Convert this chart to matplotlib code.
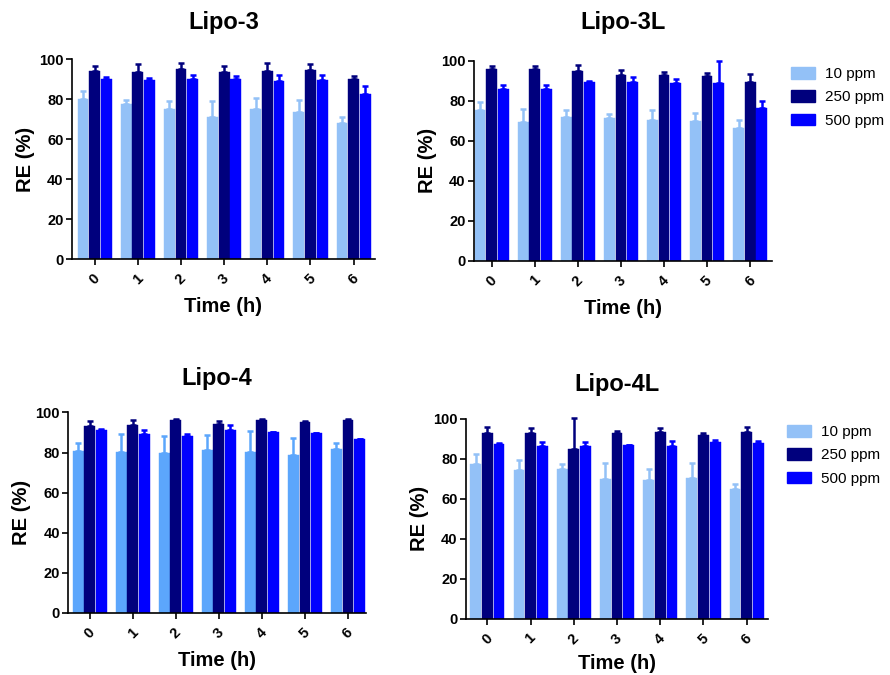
import numpy as np
import matplotlib
matplotlib.use("Agg")
import matplotlib.pyplot as plt
from matplotlib.patches import Patch

plt.rcParams['font.family'] = ['Liberation Sans', 'DejaVu Sans']

times = [0, 1, 2, 3, 4, 5, 6]
series = ['10 ppm', '250 ppm', '500 ppm']

# Lipo-3 (mean, sd)
l3_10 = [80, 77.7, 74.9, 71.2, 74.9, 73.4, 68]
l3_10_sd = [4, 2, 4.3, 7.8, 5.5, 6.3, 3.3]
l3_250 = [94, 93.7, 95.2, 93.5, 94.2, 94.7, 90]
l3_250_sd = [2.5, 3.8, 3, 3.2, 4, 3.1, 1.8]
l3_500 = [90, 89.7, 89.9, 89.9, 88.9, 89.5, 82.5]
l3_500_sd = [1, 1.1, 2.4, 1.9, 3.4, 2.8, 4]

# Lipo-3L
l3l_10 = [75.3, 69.5, 72, 71.3, 70.3, 70, 66.5]
l3l_10_sd = [3.9, 6.3, 3.2, 1.9, 5, 3.7, 3.7]
l3l_250 = [95.8, 95.8, 95, 92.8, 92.8, 92.5, 89.5]
l3l_250_sd = [1.7, 1.5, 2.8, 2.4, 1.4, 1.2, 3.7]
l3l_500 = [85.8, 85.8, 89.5, 89.5, 88.8, 88.8, 76.5]
l3l_500_sd = [2, 2, 0.5, 2.2, 2, 10.9, 3.5]

# Lipo-4
l4_10 = [80.7, 80.4, 79.9, 81.5, 80.4, 78.7, 82]
l4_10_sd = [4.3, 9.1, 8.3, 7.2, 10.3, 8.7, 2.7]
l4_250 = [93.2, 94, 96.2, 94.5, 96.5, 95.3, 96.2]
l4_250_sd = [2.6, 2.2, 0.6, 1.3, 0.2, 0.5, 0.5]
l4_500 = [91.5, 89.5, 88.4, 91.5, 90.2, 89.7, 86.7]
l4_500_sd = [0.3, 1.7, 1.1, 2.3, 0.3, 0.3, 0.3]

# Lipo-4L
l4l_10 = [77.2, 74.2, 74.7, 69.8, 69.3, 70.2, 64.8]
l4l_10_sd = [5.3, 5, 2.8, 8.2, 5.7, 7.8, 2.7]
l4l_250 = [92.7, 92.7, 84.8, 92.7, 93.2, 92, 93.3]
l4l_250_sd = [3.1, 2.6, 15.5, 1.1, 2.3, 1, 2.5]
l4l_500 = [87.2, 86.5, 86.3, 86.8, 86.5, 88.3, 87.7]
l4l_500_sd = [0.8, 1.7, 2.2, 0.2, 2.2, 0.9, 1.3]

c_light = '#93c1f7'
c_light4 = '#5ca6fc'
c_navy = '#00007d'
c_blue = '#0000ff'

fig = plt.figure(figsize=(8.9, 6.75), dpi=100)

def panel(rect, title, means, sds, colors, xlim, title_y, xpad=7):
    ax = fig.add_axes(rect)
    x = np.arange(len(times))
    w = 0.25
    offs = [-0.27, 0, 0.27]
    for m, s, c, o in zip(means, sds, colors, offs):
        ax.bar(x + o, m, width=w, color=c, edgecolor=c, linewidth=0.3, zorder=2)
        ax.errorbar(x + o, m, yerr=[np.zeros(len(s)), s], fmt='none', ecolor=c,
                    elinewidth=1.8, capsize=2.2, capthick=1.8, clip_on=False, zorder=3)
    ax.set_ylim(0, 100)
    ax.set_xlim(*xlim)
    ax.set_yticks([0, 20, 40, 60, 80, 100])
    ax.set_xticks(x)
    ax.set_xticklabels([str(t) for t in times], rotation=45, ha='center', va='top')
    for sp in ['top', 'right']:
        ax.spines[sp].set_visible(False)
    for sp in ['left', 'bottom']:
        ax.spines[sp].set_linewidth(1.2)
    ax.tick_params(width=1.2, length=4, labelsize=10.5, pad=2)
    ax.tick_params(axis='x', pad=5)
    for lb in ax.get_xticklabels() + ax.get_yticklabels():
        lb.set_fontweight('bold')
    ax.set_ylabel('RE (%)', fontsize=14.5, fontweight='bold', labelpad=3)
    ax.set_xlabel('Time (h)', fontsize=14.5, fontweight='bold', labelpad=xpad)
    cx = rect[0] + rect[2] / 2
    fig.text(cx, title_y, title, ha='center', va='center', fontsize=17, fontweight='bold')
    return ax

ax1 = panel([0.0806, 0.6159, 0.341, 0.2963], 'Lipo-3',
            [l3_10, l3_250, l3_500], [l3_10_sd, l3_250_sd, l3_500_sd],
            [c_light, c_navy, c_blue], (-0.53, 6.5), 1 - 23 / 675)
ax2 = panel([0.5326, 0.614, 0.3345, 0.2963], 'Lipo-3L',
            [l3l_10, l3l_250, l3l_500], [l3l_10_sd, l3l_250_sd, l3l_500_sd],
            [c_light, c_navy, c_blue], (-0.41, 6.5), 1 - 23 / 675)
ax3 = panel([0.0767, 0.0919, 0.3345, 0.297], 'Lipo-4',
            [l4_10, l4_250, l4_500], [l4_10_sd, l4_250_sd, l4_500_sd],
            [c_light4, c_navy, c_blue], (-0.5, 6.42), 1 - 379 / 675)
ax4 = panel([0.5233, 0.0837, 0.34, 0.2963], 'Lipo-4L',
            [l4l_10, l4l_250, l4l_500], [l4l_10_sd, l4l_250_sd, l4l_500_sd],
            [c_light, c_navy, c_blue], (-0.5, 6.5), 1 - 384 / 675, xpad=5)

def legend(ax, anchor):
    handles = [Patch(facecolor=c, edgecolor=c) for c in [c_light, c_navy, c_blue]]
    ax.legend(handles, series, loc='upper left', bbox_to_anchor=anchor,
              bbox_transform=fig.transFigure, frameon=False, fontsize=11,
              handlelength=1.6, handleheight=0.8, labelspacing=0.6,
              handletextpad=0.6, borderpad=0, borderaxespad=0)

legend(ax2, (791 / 890, 1 - 67 / 675))
legend(ax4, (787 / 890, 1 - 425 / 675))

fig.savefig('out.png', dpi=100)
